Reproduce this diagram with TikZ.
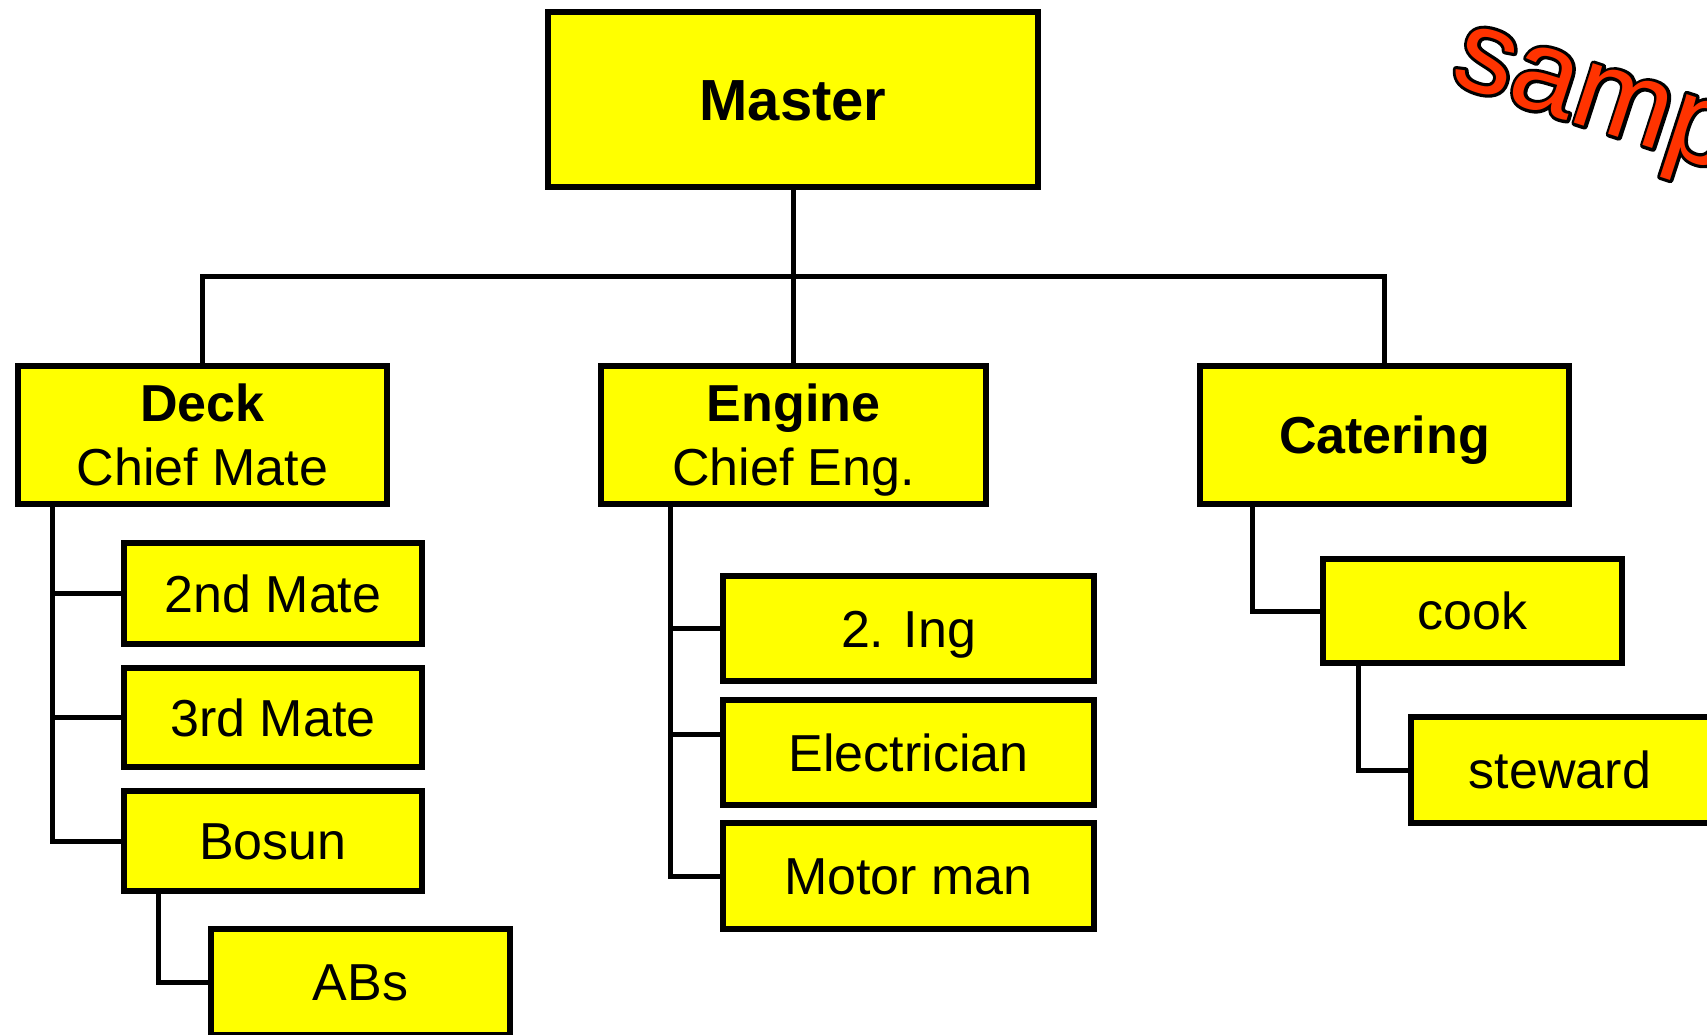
\documentclass[tikz,border=0pt]{standalone}
\usepackage{fontspec}
\setmainfont{Liberation Sans}
\definecolor{boxyellow}{HTML}{FFFF00}
\definecolor{samplered}{HTML}{FF3300}
\begin{document}
\begin{tikzpicture}[x=0.5pt,y=-0.5pt,
  box/.style={draw=black, line width=3pt, fill=boxyellow, inner sep=0pt, align=center,
    font=\fontsize{26}{32}\selectfont},
  one/.style={text height=18.7pt, text depth=0pt},
  conn/.style={draw=black, line width=2.5pt},
  wmark/.style={rotate=-18, anchor=base west, inner sep=0pt, font=\fontsize{59}{60}\selectfont}]
\useasboundingbox (0,0) rectangle (1707,1034);
\clip (0,0) rectangle (1707,1034);
\fill[white] (0,0) rectangle (1707,1034);
% watermark: black stroked outline underneath, red fill on top
\node[wmark, text=black] (wmo) at (1448,82)
      {\special{pdf:literal direct 0 0 0 RG 3.2 w 1 j 1 Tr}sample\special{pdf:literal direct 0 Tr}};
\node[wmark, text=samplered] (wm) at (1448,82) {sample};
% boxes
\node[box, one, minimum width=245pt, minimum height=87.5pt, font=\fontsize{29}{32}\selectfont\bfseries, text height=20.8pt] (master) at (793,99.5) {Master};
\node[box, minimum width=184.5pt, minimum height=69pt] (deck) at (202.5,435) {\textbf{Deck}\\Chief Mate};
\node[box, minimum width=192.5pt, minimum height=69pt] (engine) at (793.5,435) {\textbf{Engine}\\\raisebox{0pt}[\height][0pt]{Chief Eng.}};
\node[box, one, minimum width=184.5pt, minimum height=69pt] (catering) at (1384.5,435) {\textbf{Catering}};
\node[box, one, minimum width=149pt, minimum height=50.5pt] (mate2) at (273,593.5) {2nd Mate};
\node[box, one, minimum width=149pt, minimum height=49.5pt] (mate3) at (273,717.5) {3rd Mate};
\node[box, one, minimum width=149pt, minimum height=50pt] (bosun) at (273,841) {Bosun};
\node[box, one, minimum width=149.5pt, minimum height=53pt] (abs) at (360.5,982) {ABs};
\node[box, one, minimum width=185.5pt, minimum height=52.5pt] (ing) at (908.5,628.5) {2. Ing};
\node[box, one, minimum width=185.5pt, minimum height=52.5pt] (elec) at (908.5,752.5) {Electrician};
\node[box, one, minimum width=185.5pt, minimum height=53pt] (motor) at (908.5,876) {Motor man};
\node[box, one, minimum width=149.5pt, minimum height=52pt] (cook) at (1472.5,611) {cook};
\node[box, one, minimum width=149.5pt, minimum height=53pt] (steward) at (1560,770) {steward};
% connectors
\draw[conn] (master.south) -- (master.south |- 0,276);
\draw[conn] (deck.north) -- (deck.north |- 0,276) -- (catering.north |- 0,276) -- (catering.north);
\draw[conn] (engine.north |- 0,276) -- (engine.north);
\draw[conn] (deck.south -| 52,0) |- (bosun.west);
\draw[conn] (mate2.west -| 52,0) -- (mate2.west);
\draw[conn] (mate3.west -| 52,0) -- (mate3.west);
\draw[conn] (bosun.south -| 158,0) |- (abs.west);
\draw[conn] (engine.south -| 670,0) |- (motor.west);
\draw[conn] (ing.west -| 670,0) -- (ing.west);
\draw[conn] (670,734) -- (elec.west |- 0,734);
\draw[conn] (catering.south -| 1252,0) |- (cook.west);
\draw[conn] (cook.south -| 1358,0) |- (steward.west);
\end{tikzpicture}
\end{document}
